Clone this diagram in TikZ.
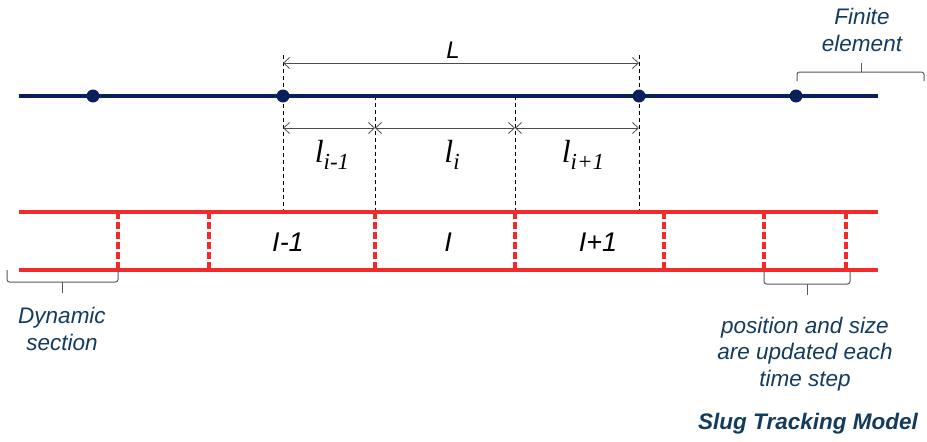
\documentclass[tikz,border=0pt]{standalone}
\usepackage{fontspec}
\setmainfont{Liberation Sans}
\newfontfamily\lenfont{Liberation Serif}
\usepackage{tikz}
\usetikzlibrary{arrows.meta,positioning,calc}
\definecolor{pipeblue}{HTML}{0B1F5C}
\definecolor{slugred}{HTML}{F42A2A}
\definecolor{notecol}{HTML}{123B5E}
\newcommand{\seglen}[1]{{\lenfont\itshape\fontsize{32}{32}\selectfont l\raisebox{-7pt}{\fontsize{23}{23}\selectfont #1}}}
\tikzset{
  st_dot/.style={
    circle, fill=pipeblue, inner sep=0pt, minimum size=13pt
  },
  st_pipe/.style={pipeblue, line width=4pt},
  st_wall/.style={slugred, line width=3.2pt},
  st_cut/.style={slugred, line width=3.2pt, dash pattern=on 7pt off 3pt},
  st_guide/.style={black, line width=0.7pt, dash pattern=on 4pt off 3pt},
  st_dim/.style={
    {Straight Barb[length=6pt,width=11pt]}-{Straight Barb[length=6pt,width=11pt]},
    line width=0.8pt, black!70
  },
  st_brace/.style={black!65, line width=1pt, rounded corners=2.5pt},
  st_note/.style={
    text=notecol, align=center, inner sep=0pt,
    font=\fontsize{22.5}{26.5}\selectfont\itshape
  },
  st_seg/.style={font=\fontsize{27}{30}\selectfont\itshape, inner sep=0pt},
}

\begin{document}
\begin{tikzpicture}[x=1pt, y=-1pt]

\useasboundingbox (0,0) rectangle (927,442);

% Guide lines from the grid down to the slugs
\draw[st_guide] (283,55) -- (283,212);
\draw[st_guide] (639,55) -- (639,212);
\draw[st_guide] (375,96) -- (375,212);
\draw[st_guide] (515,96) -- (515,212);

% Pipe grid with its nodes
\coordinate (pipeL) at (19,96);
\coordinate (pipeR) at (878,96);
\draw[st_pipe] (pipeL) -- (pipeR);
\node[st_dot] (n1) at (93,96)  {};
\node[st_dot] (n2) at (283,96) {};
\node[st_dot] (n3) at (639,96) {};
\node[st_dot] (n4) at (796,96) {};

% Dimension lines
\coordinate (La) at (283,63);
\coordinate (Lb) at (639,63);
\coordinate (d0) at (283,128);
\coordinate (d1) at (375,128);
\coordinate (d2) at (515,128);
\coordinate (d3) at (639,128);
\draw[st_dim] (La) -- (Lb);
\draw[st_dim] (d0) -- (d1);
\draw[st_dim] (d1) -- (d2);
\draw[st_dim] (d2) -- (d3);
\node[inner sep=0pt, font=\fontsize{24}{24}\selectfont\itshape] (lenL) at (453,50) {L};
\node[inner sep=0pt] (lm) at (332,155) {\seglen{i-1}};
\node[inner sep=0pt] (l0) at (452,155) {\seglen{i}};
\node[inner sep=0pt] (lp) at (583,155) {\seglen{i+1}};

% Slug unit (pipe walls and moving boundaries)
\coordinate (topL) at (19,212);
\coordinate (topR) at (878,212);
\coordinate (botL) at (19,270);
\coordinate (botR) at (878,270);
\draw[st_wall] (topL) -- (topR);
\draw[st_wall] (botL) -- (botR);
\foreach \x in {118,209,375,515,664,764,846}
  \draw[st_cut] (\x,212) -- (\x,270);
\node[st_seg] (sm) at (288,242) {I-1};
\node[st_seg] (s0) at (448,242) {I};
\node[st_seg] (sp) at (598,242) {I+1};

% Braces with notes
\draw[st_brace] (797,81) -- (797,72) -- (924,72) -- (924,81);
\draw[st_brace] (861,72) -- (861,63);
\node[st_note] (fe) at (862,30) {Finite\\element};

\draw[st_brace] (7,270) -- (7,282) -- (118,282) -- (118,270);
\draw[st_brace] (62,282) -- (62,293);
\node[st_note] (ds) at (62,329) {Dynamic\\section};

\draw[st_brace] (764,272) -- (764,284) -- (850,284) -- (850,272);
\draw[st_brace] (807,284) -- (807,295);
\node[st_note] (up) at (805,354) {position and size\\are updated each\\time step};

\node[text=notecol, inner sep=0pt, font=\fontsize{22.5}{22.5}\selectfont\bfseries\itshape] (ttl) at (808,424) {Slug Tracking Model};

\end{tikzpicture}
\end{document}
